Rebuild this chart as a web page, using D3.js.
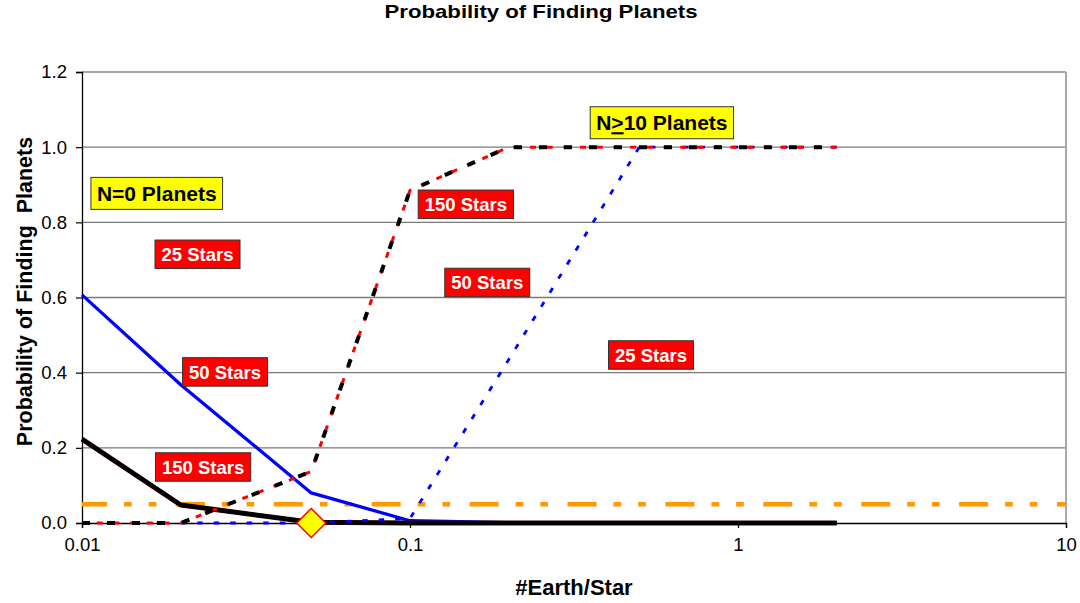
<!DOCTYPE html>
<html>
<head>
<meta charset="utf-8">
<script src="https://cdn.jsdelivr.net/npm/d3@7"></script>
<style>
  html, body { margin: 0; padding: 0; background: #fff; }
  svg { display: block; }
  text { font-family: "Liberation Sans", Arial, sans-serif; }
</style>
</head>
<body>
<svg id="chart" width="1080" height="603"></svg>
<script>
// ---- data ----
const xCategories   = [0.01, 0.02, 0.05, 0.1, 0.2, 0.5, 1, 2];
const n0Stars150    = [0.223, 0.048, 0.002, 0, 0, 0, 0, 0];
const n0Stars50     = [0.607, 0.368, 0.080, 0.006, 0.001, 0, 0, 0];
const n10Stars150   = [0, 0, 0.137, 0.885, 1.0, 1.0, 1.0, 1.0];
const n10Stars50    = [null, 0, 0, 0.012, 0.435, 1.0, 1.0, 1.0];
const thresholdValue = 0.05;
const markerPoint   = [0.05, 0];
const xTickValues   = [0.01, 0.1, 1, 10];
const xTickLabels   = ["0.01", "0.1", "1", "10"];
const yTickValues   = [0, 0.2, 0.4, 0.6, 0.8, 1.0, 1.2];
const yTickLabels   = ["0.0", "0.2", "0.4", "0.6", "0.8", "1.0", "1.2"];
const labelTexts    = ["N=0 Planets", "N>10 Planets", "25 Stars", "150 Stars", "50 Stars", "25 Stars", "50 Stars", "150 Stars"];
const labelKinds    = ["yellow", "yellow", "red", "red", "red", "red", "red", "red"];
const labelAtX      = [0.0169, 0.586, 0.0225, 0.148, 0.172, 0.543, 0.0273, 0.0234];
const labelAtY      = [0.877, 1.065, 0.715, 0.848, 0.640, 0.447, 0.402, 0.149];

// ---- layout ----
const W = 1080, H = 603;
const m = { left: 82, right: 14, top: 72, bottom: 80 };
const svg = d3.select("#chart");
const x = d3.scaleLog().domain([0.01, 10]).range([m.left, W - m.right]);
const y = d3.scaleLinear().domain([0, 1.2]).range([H - m.bottom, m.top]);
const x0 = x.range()[0], x1 = x.range()[1], yb = y(0), yt = y(1.2);

// grid
svg.append("g").selectAll("line").data(yTickValues.filter(v => v > 0 && v < 1.2)).join("line")
  .attr("x1", x0).attr("x2", x1).attr("y1", d => y(d)).attr("y2", d => y(d))
  .attr("stroke", "#7a7a7a").attr("stroke-width", 1.3);
// top/right frame
svg.append("line").attr("x1", x0).attr("x2", x1).attr("y1", yt).attr("y2", yt)
  .attr("stroke", "#8a8a8a").attr("stroke-width", 1.3);
svg.append("line").attr("x1", x1).attr("x2", x1).attr("y1", yt).attr("y2", yb)
  .attr("stroke", "#a8a8a8").attr("stroke-width", 2);

// axes
const yAxis = d3.axisLeft(y).tickValues(yTickValues).tickFormat((d, i) => yTickLabels[i]).tickSizeOuter(0).tickSize(6).tickPadding(9);
const gy = svg.append("g").attr("transform", `translate(${x0},0)`).call(yAxis);
const xAxis = d3.axisBottom(x).tickValues(xTickValues).tickFormat((d, i) => xTickLabels[i]).tickSizeOuter(0).tickSize(5).tickPadding(10);
const gx = svg.append("g").attr("transform", `translate(0,${yb})`).call(xAxis);
[gx, gy].forEach(g => {
  g.select(".domain").attr("stroke", "#000").attr("stroke-width", 1.3);
  g.selectAll(".tick line").attr("stroke", "#000").attr("stroke-width", 1.2);
  g.selectAll(".tick text").attr("font-size", 18.5).attr("fill", "#000")
    .attr("font-family", '"Liberation Sans", Arial, sans-serif');
});

// threshold line
svg.append("line").attr("x1", x0).attr("x2", x1)
  .attr("y1", y(thresholdValue)).attr("y2", y(thresholdValue))
  .attr("stroke", "#ff9900").attr("stroke-width", 4.5)
  .attr("stroke-dasharray", "29,17,7.7,17,7.7,19.5").attr("stroke-dashoffset", 4);

const lineGen = vals => d3.line()
  .defined(d => d[1] !== null)
  .x(d => x(d[0])).y(d => y(d[1]))(xCategories.map((c, i) => [c, vals[i]]));

// N=0 series
svg.append("path").attr("d", lineGen(n0Stars50)).attr("fill", "none")
  .attr("stroke", "#0000ff").attr("stroke-width", 3.3).attr("stroke-linejoin", "round");
svg.append("path").attr("d", lineGen(n0Stars150)).attr("fill", "none")
  .attr("stroke", "#3a0000").attr("stroke-width", 5).attr("stroke-linejoin", "round");
svg.append("path").attr("d", lineGen(n0Stars150)).attr("fill", "none")
  .attr("stroke", "#000").attr("stroke-width", 4).attr("stroke-linejoin", "round");
// N>=10 series
svg.append("path").attr("d", lineGen(n10Stars50)).attr("fill", "none")
  .attr("stroke", "#0000ff").attr("stroke-width", 2.8).attr("stroke-dasharray", "5.5,11");
svg.append("path").attr("d", lineGen(n10Stars150)).attr("fill", "none")
  .attr("stroke", "#ff0000").attr("stroke-width", 3).attr("stroke-dasharray", "6,10.7").attr("stroke-dashoffset", 2);
svg.append("path").attr("d", lineGen(n10Stars150)).attr("fill", "none")
  .attr("stroke", "#000").attr("stroke-width", 4).attr("stroke-dasharray", "8,17");

// diamond marker
svg.append("path")
  .attr("transform", `translate(${x(markerPoint[0])},${y(markerPoint[1])})`)
  .attr("d", "M0,-14.5L14.5,0L0,14.5L-14.5,0Z")
  .attr("fill", "#ffff00").attr("stroke", "#ff0000").attr("stroke-width", 1.5);

// annotation boxes
labelTexts.forEach((t, i) => {
  const yellow = labelKinds[i] === "yellow";
  const g = svg.append("g").attr("transform", `translate(${x(labelAtX[i])},${y(labelAtY[i])})`);
  const rect = g.append("rect");
  const txt = g.append("text").attr("text-anchor", "middle").attr("font-weight", "bold")
    .attr("font-size", yellow ? 21 : 18.5).attr("fill", yellow ? "#000" : "#fff")
    .attr("y", yellow ? 7.5 : 6.6);
  if (t.indexOf(">") >= 0) {
    const parts = t.split(">");
    txt.append("tspan").text(parts[0]);
    txt.append("tspan").text(">").style("text-decoration", "underline");
    txt.append("tspan").text(parts[1]);
  } else {
    txt.text(t);
  }
  const bb = txt.node().getBBox();
  const padX = yellow ? 6 : 6.5, hh = yellow ? 32 : 28.5;
  rect.attr("x", bb.x - padX).attr("y", -hh / 2).attr("width", bb.width + 2 * padX).attr("height", hh)
    .attr("fill", yellow ? "#ffff00" : "#ff0000")
    .attr("stroke", "#333").attr("stroke-width", 1);
});

// titles
svg.append("text").attr("x", 541).attr("y", 17.5).attr("text-anchor", "middle")
  .attr("font-weight", "bold").attr("font-size", 18.5)
  .attr("textLength", 313).attr("lengthAdjust", "spacingAndGlyphs")
  .text("Probability of Finding Planets");
svg.append("text").attr("x", (x0 + x1) / 2).attr("y", 595).attr("text-anchor", "middle")
  .attr("font-weight", "bold").attr("font-size", 22).text("#Earth/Star");
svg.append("text").attr("transform", `translate(31.5,${(yb + yt) / 2 - 6}) rotate(-90)`)
  .attr("text-anchor", "middle").attr("font-weight", "bold").attr("font-size", 21.5)
  .style("white-space", "pre").text("Probability of Finding  Planets");
</script>
</body>
</html>
